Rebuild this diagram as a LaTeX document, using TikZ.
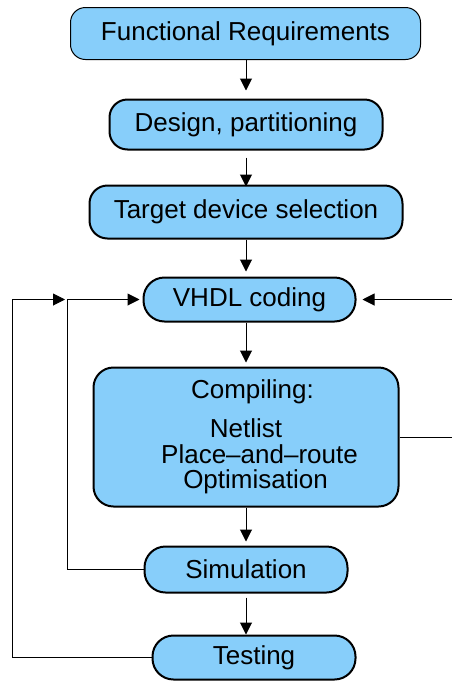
\documentclass[tikz,border=0pt]{standalone}
\usepackage{fontspec}
\setmainfont{Liberation Sans}
\usetikzlibrary{arrows.meta}
\definecolor{boxblue}{RGB}{135,206,250}
\begin{document}
\begin{tikzpicture}[x=1pt,y=-1pt,
  box/.style={draw=black, fill=boxblue, line width=2pt, rounded corners=18pt, inner sep=0pt,
    font=\fontsize{26}{25.6}\selectfont},
  arr/.style={line width=1pt, -{Triangle[length=12pt,width=12pt]}},
  con/.style={line width=1pt}]
\useasboundingbox (0,0) rectangle (451,681);
\node[box, line width=1pt, rounded corners=15pt, minimum width=350pt, minimum height=52pt] (fr) at (245.5,33.5) {Functional Requirements};
\node[box, minimum width=273pt, minimum height=50pt] (dp) at (246,124.5) {Design, partitioning};
\node[box, minimum width=313pt, minimum height=53pt] (td) at (246,212) {Target device selection};
\node[box, rounded corners=21pt, minimum width=212pt, minimum height=44pt] (vh) at (249.5,299.5) {VHDL coding};
\node[box, rounded corners=20pt, minimum width=305pt, minimum height=139pt, align=center] (cp) at (246,437)
  {\hspace*{13pt}Compiling:\\[13.5pt]Netlist\\\hspace*{27pt}Place–and–route\\\hspace*{19pt}Optimisation};
\node[box, rounded corners=21pt, minimum width=203pt, minimum height=46pt] (sim) at (246,569.5) {Simulation};
\node[box, rounded corners=21pt, minimum width=203pt, minimum height=44pt] (tst) at (254,657.5) {Testing};
\coordinate (xo) at (12,0);
\coordinate (xi) at (67,0);
\coordinate (xa) at (65,0);
\coordinate (xr) at (458,0);
\draw[arr, shorten >=8pt] (fr.south -| cp.north) -- (dp.north -| cp.north);
\draw[arr, shorten <=7pt, shorten >=-2pt] (dp.south -| cp.north) -- (td.north -| cp.north);
\draw[arr, shorten >=5pt] (td.south -| cp.north) -- (vh.north -| cp.north);
\draw[arr, shorten >=4pt] (vh.south -| cp.north) -- (cp.north);
\draw[arr, shorten >=4pt] (cp.south) -- (sim.north);
\draw[arr, shorten <=4pt] (sim.south) -- (tst.north -| sim.south);
\draw[arr] (tst.west) -| (xo |- vh.west) -- (xa |- vh.west);
\draw[arr, shorten >=3pt] (sim.west) -| (xi |- vh.west) -- (vh.west);
\draw[arr, shorten >=6pt] (cp.east) -- (cp.east -| xr) |- (vh.east);
\end{tikzpicture}
\end{document}
